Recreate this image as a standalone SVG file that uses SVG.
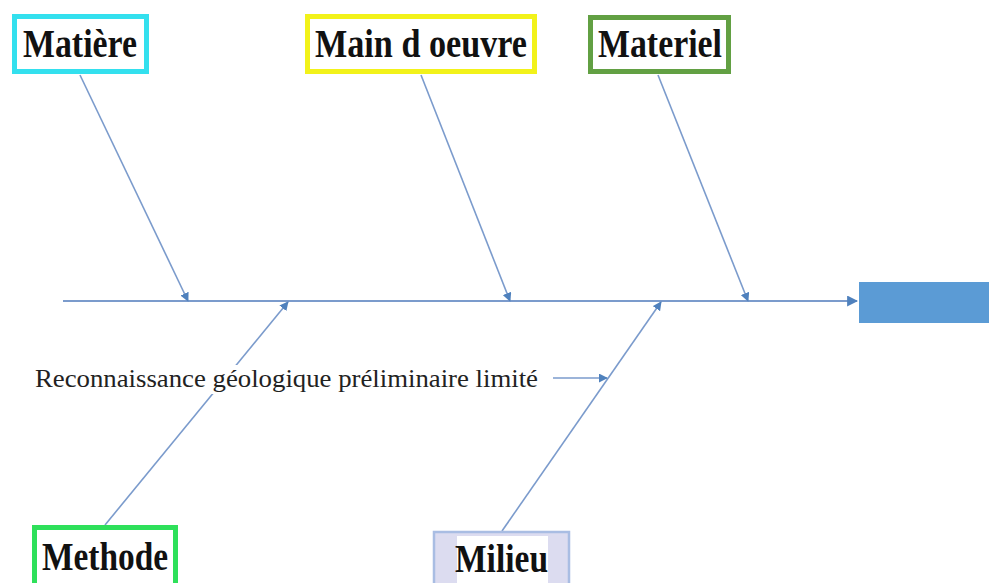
<svg xmlns="http://www.w3.org/2000/svg" width="989" height="583" viewBox="0 0 989 583">
  <style>
    .lbl { font-family: "Liberation Serif", "Times New Roman", serif; font-weight: bold; font-size: 40px; fill: #111; }
    .note { font-family: "Liberation Serif", "Times New Roman", serif; font-size: 26px; fill: #222; }
    .bone { stroke: #7b9bcc; stroke-width: 1.6; fill: none; marker-end: url(#tip); }
    .box { fill: #fff; stroke-width: 5; }
  </style>
  <defs>
    <marker id="tip" viewBox="0 0 10 10" refX="9" refY="5" markerWidth="9" markerHeight="9" orient="auto" markerUnits="userSpaceOnUse">
      <path d="M0,0 L10,5 L0,10 z" fill="#4f81bd"/>
    </marker>
    <marker id="tipBig" viewBox="0 0 10 10" refX="9" refY="5" markerWidth="11" markerHeight="11" orient="auto" markerUnits="userSpaceOnUse">
      <path d="M0,0 L10,5 L0,10 z" fill="#4f81bd"/>
    </marker>
  </defs>
  <rect width="989" height="583" fill="#fff"/>

  <!-- spine, branches and note arrow -->
  <g id="connectors">
    <line x1="63" y1="301" x2="857" y2="301" stroke="#7b9bcc" stroke-width="1.8" marker-end="url(#tipBig)"/>
    <line class="bone" x1="80" y1="75" x2="188" y2="301"/>
    <line class="bone" x1="421" y1="75" x2="510" y2="301"/>
    <line class="bone" x1="658" y1="75" x2="748" y2="301"/>
    <line class="bone" x1="105" y1="525" x2="288" y2="302"/>
    <line class="bone" x1="502" y1="531" x2="661" y2="302"/>
    <line class="bone" x1="553" y1="378" x2="607" y2="378"/>
  </g>

  <!-- effect head -->
  <g id="effect">
    <rect x="859" y="282" width="135" height="41" fill="#5b9bd5"/>
  </g>

  <g id="matiere">
    <rect class="box" x="14.5" y="16.5" width="132" height="55" stroke="#33e0ee"/>
    <text class="lbl" x="23" y="57" textLength="114" lengthAdjust="spacingAndGlyphs">Matière</text>
  </g>

  <g id="main-oeuvre">
    <rect class="box" x="307.5" y="16.5" width="227" height="55" stroke="#f2f21a"/>
    <text class="lbl" x="315" y="57" textLength="212" lengthAdjust="spacingAndGlyphs">Main d oeuvre</text>
  </g>

  <g id="materiel">
    <rect class="box" x="590.5" y="17.5" width="138" height="54" stroke="#62a043"/>
    <text class="lbl" x="598" y="57" textLength="124" lengthAdjust="spacingAndGlyphs">Materiel</text>
  </g>

  <g id="methode">
    <rect class="box" x="34.5" y="527.5" width="141" height="65" stroke="#2ee05a"/>
    <text class="lbl" x="42" y="570" textLength="126" lengthAdjust="spacingAndGlyphs">Methode</text>
  </g>

  <g id="milieu">
    <rect x="434" y="532" width="135" height="60" fill="#dcdcf0" stroke="#a9bde3" stroke-width="2.5"/>
    <rect x="457" y="536" width="91" height="56" fill="#fff"/>
    <text class="lbl" x="455" y="572" textLength="93" lengthAdjust="spacingAndGlyphs">Milieu</text>
  </g>

  <!-- cause note, on a white band so the branch passes behind it -->
  <g id="note">
    <rect x="32" y="365" width="510" height="29" fill="#fff"/>
    <text class="note" x="35" y="387" textLength="503" lengthAdjust="spacingAndGlyphs">Reconnaissance géologique préliminaire limité</text>
  </g>
</svg>
